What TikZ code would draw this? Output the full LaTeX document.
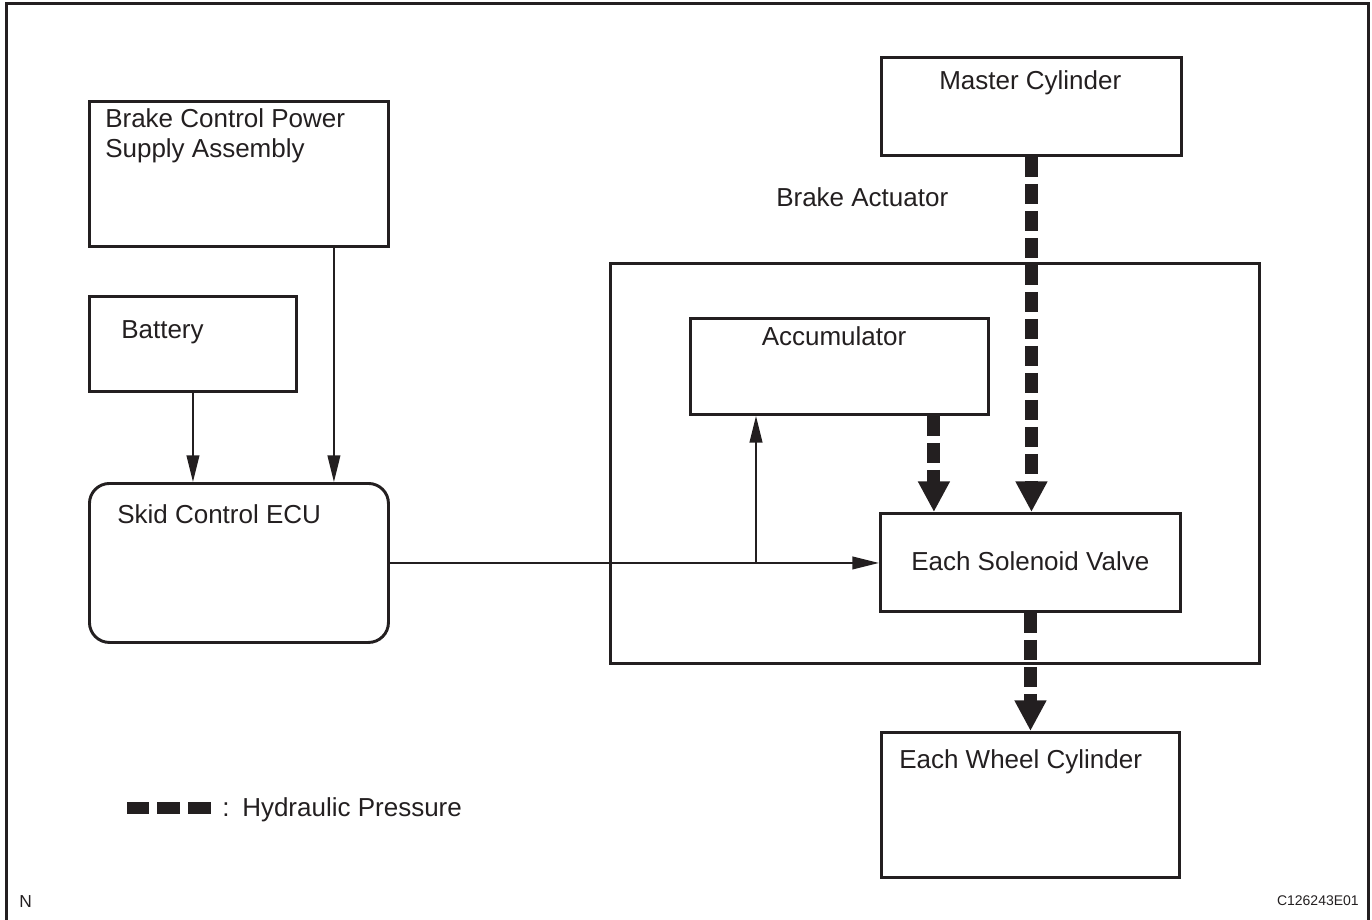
\documentclass[tikz,border=0pt]{standalone}
\usepackage{fontspec}
\setmainfont{Liberation Sans}
\usetikzlibrary{arrows.meta}
\definecolor{ink}{HTML}{231F20}
\def\u{0.75pt}
\begin{document}
\begin{tikzpicture}[x=0.75pt,y=-0.75pt,
  every node/.style={text=ink},
  box/.style={draw=ink, line width=2.2pt, inner sep=0pt, anchor=north west},
  lbl/.style={anchor=base west, inner sep=0pt, font=\fontsize{19.5}{23}\selectfont},
  thin/.style={draw=ink, line width=1.4pt, -{Triangle[length=20pt,width=9.5pt]}},
  hyd/.style={draw=ink, line width=9.75pt, dash pattern=on 15pt off 5.25pt, -{Triangle[length=23pt,width=22.5pt]}}
]
\useasboundingbox (0,0) rectangle (1372,920);
% outer frame
\draw[ink, line width=2.25pt] (6,930) -- (6,4) -- (1368,4) -- (1368,930);

% boxes
\node[box, minimum width=299*\u, minimum height=145*\u] (psu) at (88,100) {};
\node[box, minimum width=207*\u, minimum height=95*\u] (bat) at (88,295) {};
\node[box, rounded corners=15pt, minimum width=299*\u, minimum height=159*\u] (ecu) at (88,482) {};
\node[box, minimum width=300*\u, minimum height=98*\u] (mc) at (880,56) {};
\node[box, minimum width=649*\u, minimum height=400*\u] (act) at (609,262) {};
\node[box, minimum width=298*\u, minimum height=96*\u] (acc) at (689,317) {};
\node[box, minimum width=300*\u, minimum height=98*\u] (sol) at (879,512) {};
\node[box, minimum width=298*\u, minimum height=145*\u] (whl) at (880,731) {};

% labels
\node[lbl] (psut1) at (105,128) {Brake Control Power};
\node[lbl] (psut2) at (105,158) {Supply Assembly};
\node[lbl] (batt) at (121,338) {Battery};
\node[lbl] (ecut) at (117,523) {Skid Control ECU};
\node[lbl] (mct) at (939,90) {Master Cylinder};
\node[lbl] (actt) at (776,207) {Brake Actuator};
\node[lbl, anchor=base] (acct) at (834,345) {Accumulator};
\node[lbl] (solt) at (911,570) {Each Solenoid Valve};
\node[lbl] (whlt) at (899,768) {Each Wheel Cylinder};

% thin connectors
\draw[thin] (bat.south) -- (bat.south |- ecu.north);
\coordinate (psuo) at ([xshift=-56*\u]psu.south east);
\draw[thin] (psuo) -- (psuo |- ecu.north);
\draw[thin] (ecu.east) -- (ecu.east -| sol.west);
\coordinate (br) at (756,561.5);
\draw[thin] (br) -- (br |- acc.south);

% hydraulic connectors
\draw[hyd] (mc.south) -- (mc.south |- sol.north);
\coordinate (acco) at ([xshift=-56*\u]acc.south east);
\draw[hyd] (acco) -- (acco |- sol.north);
\draw[hyd] (sol.south) -- (sol.south |- whl.north);

% legend
\fill[ink] (127,802) rectangle (149,814);
\fill[ink] (157,802) rectangle (180,814);
\fill[ink] (188,802) rectangle (211,814);
\node[lbl] (legc) at (222,816) {:};
\node[lbl] (legt) at (242,816) {Hydraulic Pressure};

% corner marks
\node[anchor=base west, inner sep=0pt, font=\fontsize{13}{15}\selectfont] (nmark) at (19,907) {N};
\node[anchor=base east, inner sep=0pt, font=\fontsize{10.5}{12}\selectfont] (code) at (1359,905) {C126243E01};
\end{tikzpicture}
\end{document}
